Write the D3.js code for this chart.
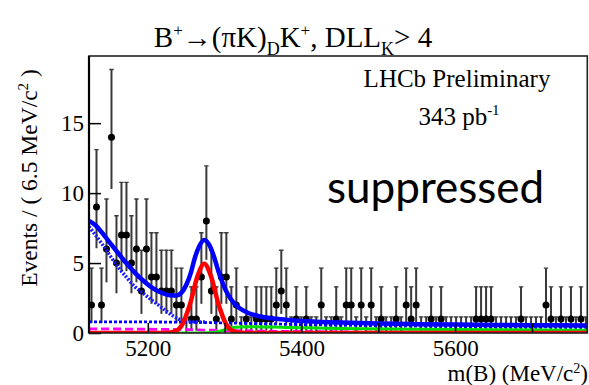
<!DOCTYPE html>
<html>
<head>
<meta charset="utf-8">
<script src="https://cdn.jsdelivr.net/npm/d3@7"></script>
<style>
  html, body { margin: 0; padding: 0; background: #fff; }
  svg { display: block; }
  text { fill: #000; }
</style>
</head>
<body>
<svg id="chart" width="589" height="385"></svg>
<script>
// ---- data -------------------------------------------------------------
// m(B) histogram: first bin low edge and bin width (MeV/c^2)
const binStart = 5123.5;
const binWidth = 6.5;

// Events per 6.5 MeV/c^2 bin
const counts = [
  2, 9, 2, 6, 14, 5, 7, 7, 5, 6,
  3, 6, 4, 4, 3, 3, 3, 2, 2, 0,
  1, 1, 4, 8, 3, 1, 4, 4, 1, 2,
  0, 1, 0, 1, 1, 1, 1, 2, 3, 2,
  0, 1, 0, 1, 0, 0, 2, 0, 0, 1,
  0, 2, 2, 0, 2, 0, 2, 0, 1, 0,
  0, 1, 0, 2, 1, 2, 0, 0, 1, 0,
  1, 0, 0, 0, 0, 0, 0, 1, 1, 1,
  1, 0, 0, 0, 0, 0, 1, 0, 0, 0,
  0, 2, 1, 0, 1, 0, 1, 0, 1, 0
];

// 68% Poisson interval half-widths, indexed by count
const errLow  = [0, 0.827, 1.291, 1.633, 1.914, 2.159, 2.379, 2.581, 2.768, 2.943, 3.108, 3.265, 3.415, 3.559, 3.706];
const errHigh = [1.148, 2.299, 2.637, 2.918, 3.162, 3.382, 3.583, 3.770, 3.945, 4.110, 4.266, 4.413, 4.553, 4.688, 4.830];

// Fit curves: [m(B), events per bin]
const totalFit = [
  [5123.5, 8.0], [5132, 7.7], [5140, 7.2], [5150, 6.5], [5161.6, 5.7], [5172, 5.0],
  [5183.4, 4.3], [5195, 3.7], [5205, 3.26], [5215, 2.95], [5226.7, 2.72], [5237.6, 2.68],
  [5245, 2.95], [5250.6, 3.5], [5256, 4.3], [5261.4, 5.4], [5267, 6.2], [5273.5, 6.65],
  [5280, 6.3], [5285.3, 5.6], [5292, 4.4], [5298, 3.5], [5304.8, 2.7], [5312, 2.15],
  [5320, 1.75], [5330, 1.45], [5345, 1.2], [5360, 1.05], [5380, 0.95], [5400, 0.85],
  [5450, 0.75], [5500, 0.68], [5550, 0.63], [5600, 0.6], [5650, 0.58], [5700, 0.56], [5772, 0.54]
];
const signalFit = [
  [5123.5, 0], [5215, 0], [5225, 0.01], [5235, 0.11], [5245, 0.62], [5255, 2.07], [5265, 4.1],
  [5273.5, 4.95], [5282, 4.1], [5292, 2.07], [5302, 0.62], [5312, 0.11], [5322, 0.01],
  [5335, 0], [5772, 0]
];
const partRecoFit = [
  [5123.5, 7.6], [5132, 7.0], [5140, 6.4], [5150, 5.6], [5161.6, 4.7], [5172, 4.0],
  [5183.4, 3.3], [5195, 2.8], [5205, 2.35], [5215, 1.95], [5222, 1.65], [5232, 1.25],
  [5240, 1.0], [5250, 0.85], [5260, 0.8], [5275, 0.78]
];
const combFit = [
  [5123.5, 0.8], [5200, 0.79], [5250, 0.77], [5300, 0.72], [5350, 0.66], [5400, 0.6],
  [5500, 0.52], [5600, 0.47], [5700, 0.44], [5772, 0.42]
];
const misIdFit = [
  [5123.5, 0.3], [5200, 0.27], [5250, 0.24], [5300, 0.18], [5350, 0.13], [5400, 0.1],
  [5500, 0.06], [5600, 0.04], [5700, 0.02], [5772, 0.02]
];
const dpiFit = [
  [5123.5, 0], [5270, 0], [5285, 0.03], [5295, 0.15], [5310, 0.4], [5330, 0.45],
  [5380, 0.4], [5450, 0.33], [5550, 0.27], [5650, 0.23], [5772, 0.2]
];

const xTicks = [5200, 5300, 5400, 5500, 5600, 5700];
const xTickLabels = [5200, 5400, 5600];
const yTicks = [0, 5, 10, 15];

// ---- layout -------------------------------------------------------------
const svg = d3.select("#chart");
const plot = { left: 89, right: 587.3, top: 56, bottom: 333 };
const serif = "'Liberation Serif', 'Times New Roman', serif";

const x = d3.scaleLinear().domain([5123.5, 5772]).range([plot.left, plot.right]);
const y = d3.scaleLinear().domain([0, 19.8]).range([plot.bottom, plot.top]);

svg.append("rect").attr("width", 589).attr("height", 385).attr("fill", "#fff");

svg.append("clipPath").attr("id", "plotClip")
  .append("rect")
  .attr("x", plot.left).attr("y", plot.top)
  .attr("width", plot.right - plot.left).attr("height", plot.bottom - plot.top);

// ---- data points with asymmetric errors ---------------------------------
const bins = counts.map((n, i) => ({
  lo: binStart + i * binWidth,
  hi: binStart + (i + 1) * binWidth,
  mid: binStart + (i + 0.5) * binWidth,
  n
}));

const dataG = svg.append("g").attr("clip-path", "url(#plotClip)");
const bar = dataG.selectAll("g.bin").data(bins).join("g").attr("class", "bin");

bar.append("line")
  .attr("x1", d => x(d.mid)).attr("x2", d => x(d.mid))
  .attr("y1", d => y(d.n - errLow[d.n])).attr("y2", d => y(d.n + errHigh[d.n]))
  .attr("stroke", "#3a3a3a").attr("stroke-width", 2);
bar.append("line")
  .attr("x1", d => x(d.mid) - 2.2).attr("x2", d => x(d.mid) + 2.2)
  .attr("y1", d => y(d.n + errHigh[d.n])).attr("y2", d => y(d.n + errHigh[d.n]))
  .attr("stroke", "#3a3a3a").attr("stroke-width", 1.4);
bar.append("line")
  .attr("x1", d => x(d.lo)).attr("x2", d => x(d.hi))
  .attr("y1", d => y(d.n)).attr("y2", d => y(d.n))
  .attr("stroke", "#222").attr("stroke-width", 1.2);
bar.filter(d => d.n > 0).append("circle")
  .attr("cx", d => x(d.mid)).attr("cy", d => y(d.n))
  .attr("r", 3.5).attr("fill", "#000");

// ---- fit components -----------------------------------------------------
const line = d3.line()
  .x(d => x(d[0])).y(d => y(d[1]))
  .curve(d3.curveMonotoneX);

const fitG = svg.append("g").attr("clip-path", "url(#plotClip)").attr("fill", "none");

fitG.append("path").datum(combFit).attr("d", line)
  .attr("stroke", "#0000ff").attr("stroke-width", 2.8).attr("stroke-dasharray", "3,2");
fitG.append("path").datum(partRecoFit).attr("d", line)
  .attr("stroke", "#1a1aff").attr("stroke-width", 3.6).attr("stroke-dasharray", "2,1.6");
fitG.append("path").datum(misIdFit).attr("d", line)
  .attr("stroke", "#ff00ff").attr("stroke-width", 2.8).attr("stroke-dasharray", "8,4");
fitG.append("path").datum(dpiFit).attr("d", line)
  .attr("stroke", "#00dd00").attr("stroke-width", 3);
fitG.append("path").datum(signalFit).attr("d", line)
  .attr("stroke", "#ff0000").attr("stroke-width", 4.5);
fitG.append("path").datum(totalFit).attr("d", line)
  .attr("stroke", "#0000ff").attr("stroke-width", 4.5);

// ---- axes ---------------------------------------------------------------
const xAxis = svg.append("g")
  .attr("transform", `translate(0,${plot.bottom})`)
  .call(d3.axisBottom(x)
    .tickValues(xTicks)
    .tickSizeInner(-10).tickSizeOuter(0).tickPadding(7)
    .tickFormat(v => xTickLabels.includes(v) ? String(v) : ""));
xAxis.select(".domain").remove();
xAxis.selectAll(".tick line").attr("stroke", "#000").attr("stroke-width", 1.5);
xAxis.selectAll(".tick text")
  .attr("font-family", serif).attr("font-size", 23).attr("fill", "#000");

const yAxis = svg.append("g")
  .attr("transform", `translate(${plot.left},0)`)
  .call(d3.axisLeft(y)
    .tickValues(yTicks)
    .tickSizeInner(-12).tickSizeOuter(0).tickPadding(5)
    .tickFormat(d3.format("d")));
yAxis.select(".domain").remove();
yAxis.selectAll(".tick line").attr("stroke", "#000").attr("stroke-width", 1.5);
yAxis.selectAll(".tick text")
  .attr("font-family", serif).attr("font-size", 23).attr("fill", "#000");

// frame
svg.append("rect")
  .attr("x", plot.left).attr("y", plot.top)
  .attr("width", plot.right - plot.left).attr("height", plot.bottom - plot.top)
  .attr("fill", "none").attr("stroke", "#222").attr("stroke-width", 1.6);
svg.append("line")
  .attr("x1", plot.left).attr("x2", plot.left)
  .attr("y1", plot.top).attr("y2", plot.bottom)
  .attr("stroke", "#000").attr("stroke-width", 2.2);

// ---- text ---------------------------------------------------------------
const title = svg.append("text")
  .attr("x", 293).attr("y", 47)
  .attr("text-anchor", "middle")
  .attr("font-family", serif).attr("font-size", 29);
title.append("tspan").text("B");
title.append("tspan").attr("font-size", 17).attr("dy", -11).text("+");
title.append("tspan").attr("dy", 11).text("\u2192(\u03c0K)");
title.append("tspan").attr("font-size", 18).attr("dy", 8).text("D");
title.append("tspan").attr("dy", -8).text("K");
title.append("tspan").attr("font-size", 17).attr("dy", -11).text("+");
title.append("tspan").attr("dy", 11).text(", DLL");
title.append("tspan").attr("font-size", 18).attr("dy", 8).text("K");
title.append("tspan").attr("dy", -8).text("> 4");

svg.append("text")
  .attr("x", 457).attr("y", 87)
  .attr("text-anchor", "middle")
  .attr("font-family", serif).attr("font-size", 25)
  .text("LHCb Preliminary");

const lumi = svg.append("text")
  .attr("x", 459).attr("y", 125)
  .attr("text-anchor", "middle")
  .attr("font-family", serif).attr("font-size", 25);
lumi.append("tspan").text("343 pb");
lumi.append("tspan").attr("font-size", 15).attr("dy", -10).text("-1");

svg.append("text")
  .attr("x", 327).attr("y", 203)
  .attr("font-family", "Lato, 'Open Sans', sans-serif").attr("font-size", 44)
  .text("suppressed");

const yTitle = svg.append("text")
  .attr("transform", "translate(37,178) rotate(-90)")
  .attr("text-anchor", "middle")
  .attr("font-family", serif).attr("font-size", 23.5);
yTitle.append("tspan").text("Events / ( 6.5 MeV/c");
yTitle.append("tspan").attr("font-size", 15).attr("dy", -9).text("2");
yTitle.append("tspan").attr("dy", 9).text(" )");

const xTitle = svg.append("text")
  .attr("x", 588).attr("y", 381)
  .attr("text-anchor", "end")
  .attr("font-family", serif).attr("font-size", 23);
xTitle.append("tspan").text("m(B) (MeV/c");
xTitle.append("tspan").attr("font-size", 14).attr("dy", -8).text("2");
xTitle.append("tspan").attr("dy", 8).text(")");
</script>
</body>
</html>
